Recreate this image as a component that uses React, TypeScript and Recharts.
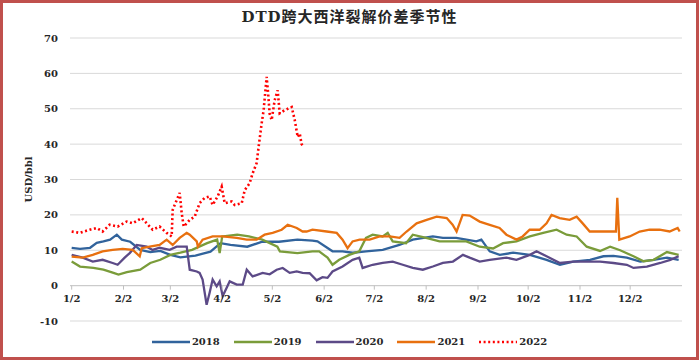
import { LineChart, Line, XAxis, YAxis, CartesianGrid, ReferenceLine } from "recharts";

const W = 699;
const H = 360;
const MARGIN = { top: 38, right: 17, left: 0, bottom: 0 };
const Y_AXIS_W = 70;
const X_AXIS_H = 39;
const Y_MIN = -10;
const Y_MAX = 70;
const FONT = '"DejaVu Serif", "Liberation Serif", serif';
const TEXT = "#262626";

const MONTH_DAYS = [2, 33, 61, 92, 122, 153, 183, 214, 245, 275, 306, 336];
const MONTH_LABELS = ["1/2", "2/2", "3/2", "4/2", "5/2", "6/2", "7/2", "8/2", "9/2", "10/2", "11/2", "12/2"];
const Y_TICKS = [-10, 0, 10, 20, 30, 40, 50, 60, 70];

// day of year -> spread value
const DAYS_2018 = [2, 7, 13, 17, 21, 25, 29, 32, 37, 43, 49, 55, 61, 67, 76, 85, 91, 97, 107, 116, 126, 137, 146, 149, 158, 164, 170, 178, 188, 198, 206, 218, 224, 232, 238, 244, 247, 252, 258, 266, 276, 286, 294, 302, 312, 320, 326, 334, 342, 350, 358, 365];
const VALS_2018 = [10.7, 10.4, 10.7, 12.1, 12.5, 13, 14.4, 13, 12.4, 10.1, 9.5, 9.8, 8.7, 8, 8.5, 9.6, 12, 11.5, 11, 12.4, 12.4, 13, 12.7, 12.5, 9.7, 9.7, 9.3, 9.7, 10.1, 11.5, 13, 13.9, 13.5, 13.5, 13, 12.5, 13, 9.7, 8.7, 9.3, 8.7, 7.3, 5.9, 6.8, 7.3, 8.3, 8.4, 7.9, 6.8, 7.3, 7.9, 7.3];

const DAYS_2019 = [2, 7, 15, 21, 27, 30, 35, 43, 49, 55, 61, 67, 74, 83, 89, 90.5, 92, 101, 108, 116, 125, 126.5, 137, 146, 150, 155, 158, 162, 168, 174, 178, 182, 188, 191, 194, 202, 206, 214, 222, 230, 238, 246, 254, 260, 268, 276, 284, 292, 298, 304, 310, 318, 324, 330, 338, 344, 350, 358, 365];
const VALS_2019 = [6.8, 5.4, 5, 4.5, 3.6, 3.1, 3.8, 4.5, 6.4, 7.3, 8.7, 9.3, 10.1, 12, 13, 9.2, 13.9, 14.4, 13.9, 13, 11, 9.7, 9.2, 9.7, 9.7, 7.9, 5.9, 7.3, 8.7, 9.7, 13.5, 14.4, 13.9, 14.9, 12.5, 12, 14.4, 13.5, 12.5, 12.5, 12.5, 11, 10.5, 12, 12.5, 13.9, 14.9, 15.8, 14.4, 13.9, 11, 9.8, 11, 10, 8.3, 6.9, 7.3, 9.5, 8.7];

const DAYS_2020 = [2, 8.6, 14.6, 20.5, 26.5, 29.5, 33.7, 36.7, 40.9, 46.9, 50.4, 54.6, 60.6, 64.8, 68.4, 70.8, 72.6, 76.8, 78.5, 80.3, 82.7, 84.5, 86.3, 88.7, 90.5, 92.3, 94.7, 96.5, 100.7, 104.3, 106.7, 110.2, 116.2, 120.4, 124.6, 128.2, 132.4, 136.6, 140.1, 144.3, 148.5, 152, 155, 158, 164, 170, 174, 176, 182, 188, 194, 200, 206, 212, 218, 224, 230, 236, 240, 246, 252, 262, 268, 276, 280, 286, 294, 302, 310, 318, 326, 334, 338, 346, 354, 360, 365];
const VALS_2020 = [8.7, 7.9, 6.8, 7.3, 6.4, 5.9, 7.9, 9.2, 11.5, 11, 10.1, 10.7, 10.1, 11, 11, 11, 4.5, 4, 3.6, 1.7, -5.4, -2, 1.7, -0.2, 1.2, -3, -0.6, 1.2, 0.3, 0.3, 4.5, 2.6, 3.6, 3.2, 4.5, 5, 3.6, 4, 3.6, 3.5, 1.5, 2.4, 2.2, 4, 5.4, 7.3, 7.9, 5, 5.9, 6.4, 6.8, 5.9, 5, 4.5, 5.4, 6.4, 6.8, 8.7, 7.9, 6.8, 7.3, 7.9, 7.3, 8.7, 9.7, 8.3, 6.4, 6.8, 6.8, 6.8, 6.4, 5.9, 5, 5.4, 6.4, 7.3, 8.3];

const DAYS_2021 = [2, 8.6, 14.6, 20.5, 26.5, 32.5, 38.5, 42.7, 43.9, 48.6, 54.6, 58.8, 62.4, 66.6, 70.8, 72.6, 76.8, 77.5, 80.3, 86.3, 92.3, 100.7, 106.7, 112.6, 117.4, 122.2, 127.6, 131.2, 136.6, 140.1, 142.5, 146, 154.5, 160.5, 164, 167, 170, 174.2, 180.2, 186.2, 192.2, 198.1, 202.3, 208.3, 214.3, 220.3, 226.3, 229.8, 232.2, 235.8, 240, 246, 252, 257.9, 262, 268, 271.7, 275.9, 281.9, 286, 289, 293.8, 299.8, 304, 307.6, 311.8, 317.7, 323.7, 327.5, 328.3, 329.5, 335.7, 341.7, 347.6, 353.6, 359.6, 364.4, 365.6];
const VALS_2021 = [8.2, 7.9, 8.7, 9.7, 10.1, 10.4, 10.1, 8.3, 10.6, 11, 11.5, 13, 11.5, 13.5, 14.9, 14.4, 12.5, 11, 13, 13.9, 13.9, 13.5, 13, 13, 14.4, 14.9, 15.8, 17.2, 16.3, 15.3, 15.3, 15.8, 15.3, 14.9, 13, 10.6, 12.5, 13, 13, 13.9, 13.9, 13.5, 15.3, 17.6, 18.6, 19.5, 19.1, 17.2, 15.3, 20, 19.8, 18.1, 17.2, 16.3, 14.4, 13, 13.9, 15.8, 15.8, 17.6, 20, 19.1, 18.6, 19.5, 17.6, 15.3, 15.3, 15.3, 15.3, 24.8, 13, 13.9, 15.3, 15.8, 15.8, 15.3, 16.3, 15.3];

const DAYS_2022 = [2, 6.8, 12.8, 17, 20.5, 24.7, 29.5, 34.9, 38.5, 43.9, 46.9, 50.4, 54.6, 58.8, 61.8, 62.4, 63.6, 66.6, 67.8, 69, 70.8, 72.6, 75.6, 78.5, 81.5, 84.5, 86.3, 89.3, 91.7, 93.5, 97.7, 99.5, 103.7, 105.5, 108.4, 110.2, 112.6, 113.8, 115.6, 116.8, 118.6, 119.5, 120.4, 121.6, 123.4, 125.2, 126.4, 129.4, 133.6, 135.4, 137.2, 138.4, 139.5, 140.7];
const VALS_2022 = [15.3, 14.9, 15.8, 16.3, 15.3, 17.2, 16.7, 18.1, 17.6, 19.1, 17.6, 15.8, 16.7, 14.9, 13.9, 21.4, 22.8, 26.2, 20.5, 16.7, 17.6, 18.6, 19.5, 23.3, 24.8, 25.2, 22.8, 25.2, 28, 23.3, 23.8, 22.8, 23.3, 27, 28.9, 31.7, 34.6, 39.2, 45.8, 49.6, 59, 54.3, 48.6, 46.8, 52.4, 55.2, 48.7, 49.6, 50.5, 46.8, 42, 43, 40, 39.4];

const SERIES = [
  { name: "2018", days: DAYS_2018, vals: VALS_2018, color: "#31639C", dash: undefined },
  { name: "2019", days: DAYS_2019, vals: VALS_2019, color: "#7A9C3A", dash: undefined },
  { name: "2020", days: DAYS_2020, vals: VALS_2020, color: "#5C4A87", dash: undefined },
  { name: "2021", days: DAYS_2021, vals: VALS_2021, color: "#E8700F", dash: undefined },
  { name: "2022", days: DAYS_2022, vals: VALS_2022, color: "#FF0000", dash: "2 2.6" },
];

const PLOT_H = H - MARGIN.top - X_AXIS_H;

function MonthTick({ x, y, payload }: any) {
  // ticks sit on the zero line, not at the bottom of the plot
  const zeroY = y - (PLOT_H * (0 - Y_MIN)) / (Y_MAX - Y_MIN);
  const i = MONTH_DAYS.indexOf(payload.value);
  return (
    <g>
      <line x1={x} x2={x} y1={zeroY} y2={zeroY + 4} stroke="#BFBFBF" />
      <text x={x} y={zeroY + 16} textAnchor="middle" fontFamily={FONT} fontWeight="bold" fontSize={10} fill={TEXT}>
        {MONTH_LABELS[i]}
      </text>
    </g>
  );
}

function YLabel() {
  const cy = MARGIN.top + PLOT_H / 2;
  return (
    <text
      x={28}
      y={cy}
      transform={`rotate(-90 28 ${cy})`}
      textAnchor="middle"
      dominantBaseline="central"
      fontFamily={FONT}
      fontWeight="bold"
      fontSize={10}
      fill={TEXT}
    >
      USD/bbl
    </text>
  );
}

export default function App() {
  return (
    <div style={{ position: "fixed", left: 0, top: 0, width: W, height: H, background: "#fff" }}>
      <div
        style={{
          position: "absolute",
          top: 10,
          left: 0,
          width: W,
          textAlign: "center",
          fontFamily: '"DejaVu Serif", "Noto Sans CJK SC", serif',
          fontWeight: "bold",
          fontSize: 15,
          lineHeight: "15px",
          letterSpacing: 1,
          color: TEXT,
        }}
      >
        DTD跨大西洋裂解价差季节性
      </div>
      <LineChart width={W} height={H} margin={MARGIN}>
        <CartesianGrid vertical={false} stroke="#D9D9D9" />
        <XAxis
          type="number"
          dataKey="day"
          domain={[1, 367]}
          ticks={MONTH_DAYS}
          interval={0}
          height={X_AXIS_H}
          axisLine={false}
          tickLine={false}
          tickSize={0}
          tickMargin={0}
          tick={<MonthTick />}
          allowDuplicatedCategory={false}
        />
        <YAxis
          type="number"
          domain={[Y_MIN, Y_MAX]}
          ticks={Y_TICKS}
          interval={0}
          width={Y_AXIS_W}
          axisLine={false}
          tickLine={false}
          tickSize={0}
          tickMargin={12}
          tick={{ fontFamily: FONT, fontWeight: "bold", fontSize: 10, fill: TEXT }}
          label={<YLabel />}
        />
        <ReferenceLine y={0} stroke="#C8C8C8" />
        {SERIES.map((s) => (
          <Line
            key={s.name}
            data={s.days.map((d, i) => ({ day: d, value: s.vals[i] }))}
            dataKey="value"
            name={s.name}
            type="linear"
            stroke={s.color}
            strokeWidth={s.dash ? 2.6 : 2.3}
            strokeDasharray={s.dash}
            dot={false}
            activeDot={false}
            isAnimationActive={false}
          />
        ))}
      </LineChart>
      <div
        style={{
          position: "absolute",
          top: 335,
          left: 0,
          width: W,
          display: "flex",
          justifyContent: "center",
          fontFamily: FONT,
          fontWeight: "bold",
          fontSize: 10,
          color: TEXT,
        }}
      >
        {SERIES.map((s) => (
          <div key={s.name} style={{ display: "flex", alignItems: "center", margin: "0 7px" }}>
            <svg width={38} height={14}>
              <line x1={0} x2={38} y1={7} y2={7} stroke={s.color} strokeWidth={s.dash ? 2.6 : 2.3} strokeDasharray={s.dash} />
            </svg>
            <span style={{ marginLeft: 2, lineHeight: "14px" }}>{s.name}</span>
          </div>
        ))}
      </div>
      <div
        style={{
          position: "absolute",
          inset: 0,
          border: "3px solid #C0504D",
          pointerEvents: "none",
        }}
      />
    </div>
  );
}
